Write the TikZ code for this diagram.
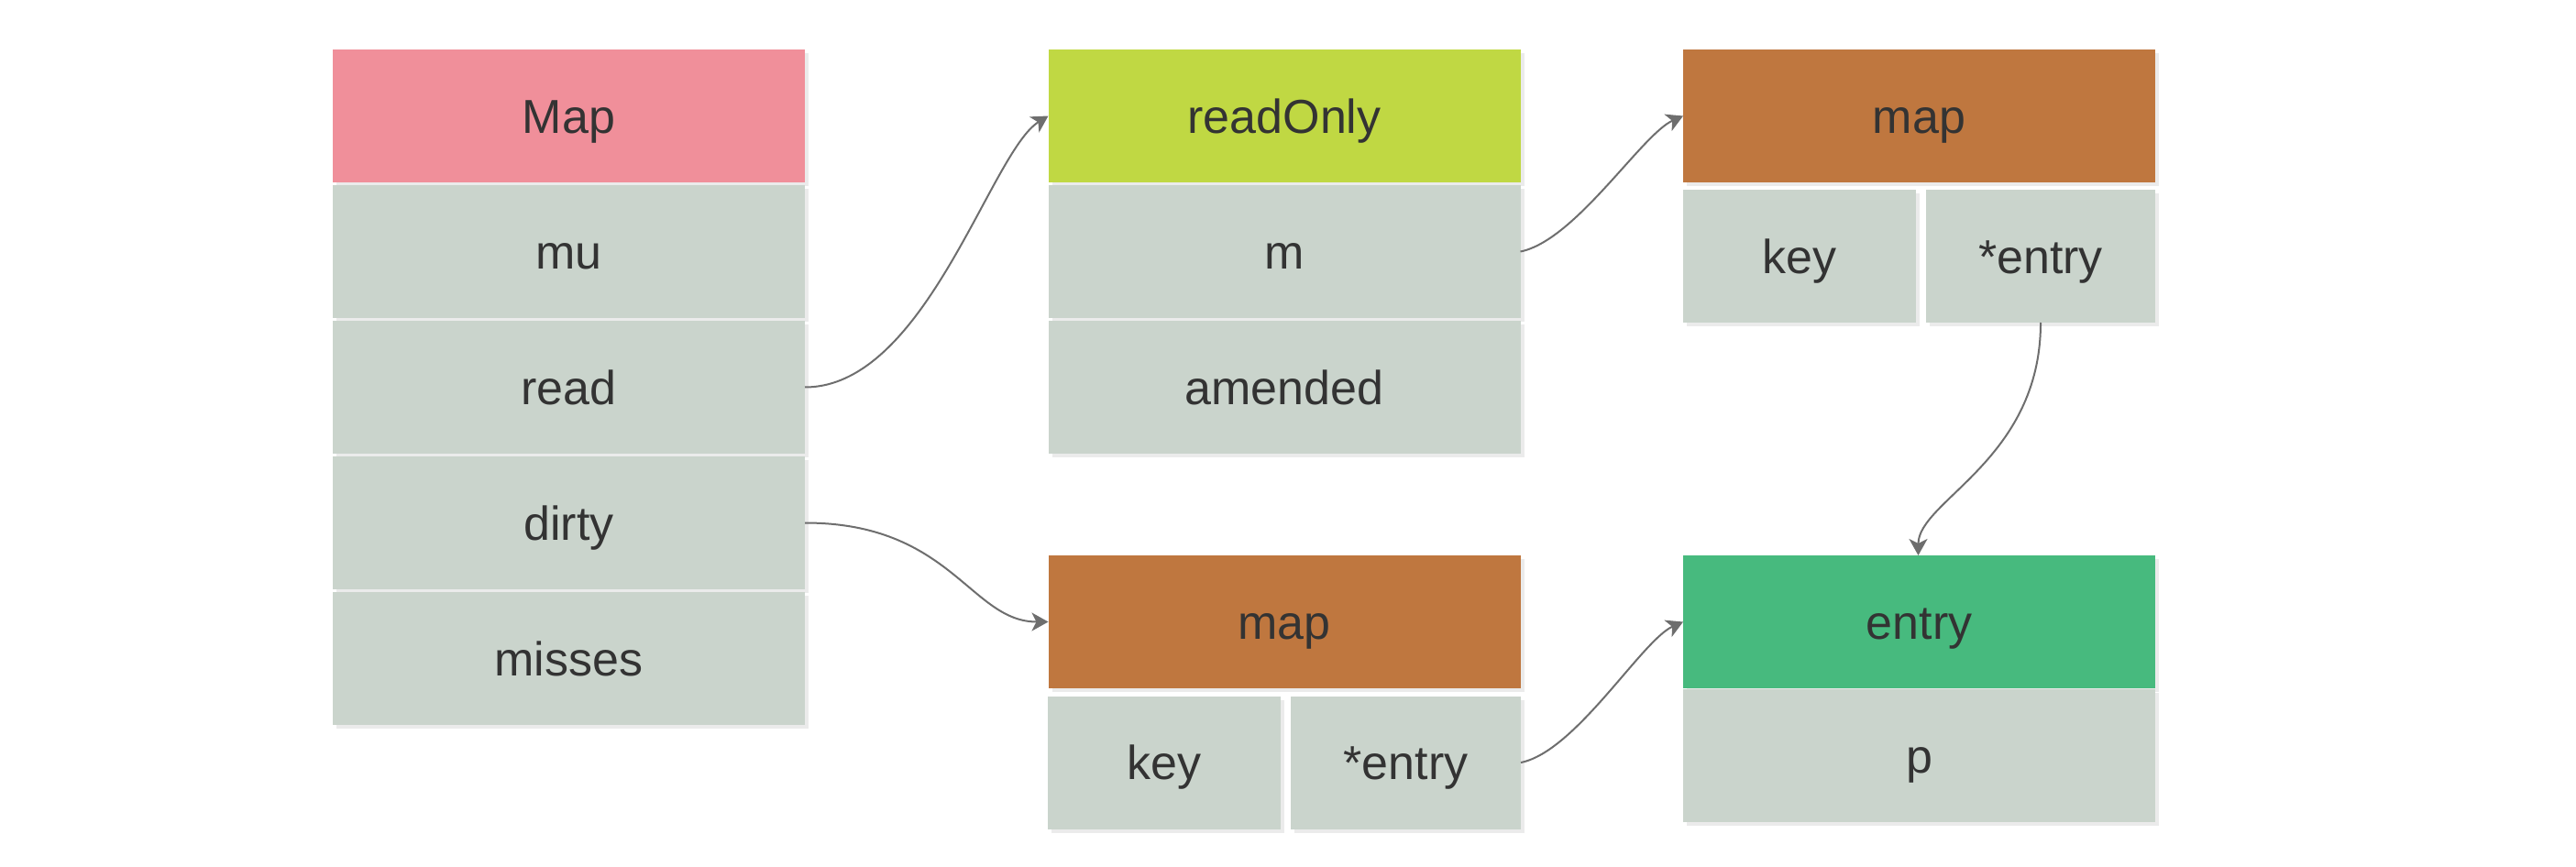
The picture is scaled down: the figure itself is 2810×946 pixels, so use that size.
\documentclass[tikz,border=0pt]{standalone}
\usepackage{fontspec}
\setmainfont{Liberation Sans}
\usetikzlibrary{shadows,arrows.meta}
\definecolor{pinkc}{HTML}{F08F9A}
\definecolor{limec}{HTML}{C0D843}
\definecolor{brownc}{HTML}{BF773F}
\definecolor{greenc}{HTML}{47BA7E}
\definecolor{grayc}{HTML}{CAD4CC}
\definecolor{txtc}{HTML}{333333}
\definecolor{arrowc}{HTML}{6E6E6E}
\definecolor{shadowc}{HTML}{EBEBEB}
\tikzset{
  cell/.style={rectangle, inner sep=0pt, outer sep=0pt, minimum height=72.5pt,
    text=txtc, font=\fontsize{26}{30}\selectfont, text height=18.6pt, text depth=0pt,
    drop shadow={shadow xshift=2pt, shadow yshift=-2pt, fill=shadowc, opacity=1}},
  wide/.style={cell, minimum width=257.5pt},
  row/.style={fill=grayc},
  link/.style={draw=arrowc, line width=1pt, -{Stealth[length=9pt,width=10pt,inset=2.5pt]}},
}
\begin{document}
\begin{tikzpicture}[x=0.5pt, y=-0.5pt]
\useasboundingbox (0,0) rectangle (2810,946);
% Map column
\node[wide, fill=pinkc] (Map) at (620.5,126.5) {Map};
\node[wide, row] (mu) at (620.5,274.5) {mu};
\node[wide, row] (read) at (620.5,422.5) {read};
\node[wide, row] (dirty) at (620.5,570.5) {dirty};
\node[wide, row] (misses) at (620.5,718.5) {misses};
% readOnly column
\node[wide, fill=limec] (readOnly) at (1401,126.5) {readOnly};
\node[wide, row] (m) at (1401,274.5) {m};
\node[wide, row] (amended) at (1401,422.5) {amended};
% top-right map
\node[wide, fill=brownc] (mapA) at (2093.5,126.5) {map};
\node[cell, row, minimum width=127pt] (keyA) at (1963,279.5) {key};
\node[cell, row, minimum width=125pt] (entA) at (2226,279.5) {*entry};
% bottom map
\node[wide, fill=brownc] (mapB) at (1401,678.5) {map};
\node[cell, row, minimum width=127pt] (keyB) at (1270,832) {key};
\node[cell, row, minimum width=125.5pt] (entB) at (1533.5,832) {*entry};
% entry
\node[wide, fill=greenc] (entry) at (2093.5,678.5) {entry};
\node[wide, row] (p) at (2093.5,824.5) {p};
% connectors
\draw[link] (read.east) .. controls +(132,0) and +(-63,39) .. (readOnly.west);
\draw[link] (m.east) .. controls +(60,-12) and +(-45,20) .. (mapA.west);
\draw[link] (dirty.east) .. controls +(160,0) and +(-85,0) .. (mapB.west);
\draw[link] (entB.east) .. controls +(60,-12) and +(-45,20) .. (entry.west);
\draw[link] (entA.south) .. controls +(0,150) and +(0,-60) .. ([xshift=-0.5pt]entry.north);
\end{tikzpicture}
\end{document}
